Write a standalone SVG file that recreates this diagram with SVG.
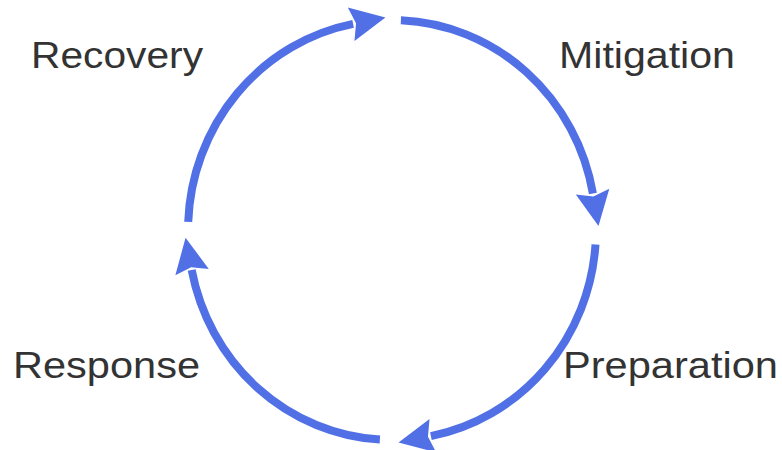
<svg xmlns="http://www.w3.org/2000/svg" width="782" height="450" viewBox="0 0 782 450">
<style>
.arc{fill:none;stroke:#5170e6;stroke-width:8;stroke-linecap:butt}
.lbl{font-family:"Liberation Sans",Arial,sans-serif;font-size:36px;fill:#333333}
</style>
<defs>
<marker id="ah" markerUnits="userSpaceOnUse" viewBox="-5 -20 45 40" markerWidth="45" markerHeight="40" refX="0" refY="0" orient="auto" overflow="visible">
<path d="M-2,-17 L33,0 L-2,17 L3,0 Z" fill="#5170e6"/>
</marker>
</defs>
<rect width="782" height="450" fill="#ffffff"/>
<g id="connectors">
<path class="arc" d="M400.9,20.2 A204,210 0 0 1 592.9,193.5" marker-end="url(#ah)"/>
<path class="arc" d="M595.5,244.6 A204,210 0 0 1 430.9,436.1" marker-end="url(#ah)"/>
<path class="arc" d="M379.9,439.6 A204,210 0 0 1 191.7,270.1" marker-end="url(#ah)"/>
<path class="arc" d="M188.2,221.9 A204,210 0 0 1 353.1,23.9" marker-end="url(#ah)"/>
</g>
<g id="recovery"><text class="lbl" x="31" y="68" textLength="172" lengthAdjust="spacingAndGlyphs">Recovery</text></g>
<g id="mitigation"><text class="lbl" x="559" y="68" textLength="176" lengthAdjust="spacingAndGlyphs">Mitigation</text></g>
<g id="response"><text class="lbl" x="13" y="378" textLength="187" lengthAdjust="spacingAndGlyphs">Response</text></g>
<g id="preparation"><text class="lbl" x="563" y="378" textLength="215" lengthAdjust="spacingAndGlyphs">Preparation</text></g>
</svg>
